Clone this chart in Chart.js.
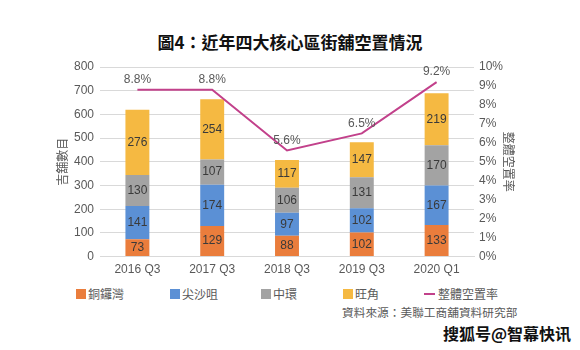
<!DOCTYPE html>
<html>
<head>
<meta charset="utf-8">
<script src="https://cdn.jsdelivr.net/npm/chart.js@4"></script>
<style>
  body { margin: 0; background: #fff; font-family: "Liberation Sans", "Noto Sans CJK TC", sans-serif; }
  #wrap { position: relative; width: 580px; height: 350px; }
  #title { position: absolute; top: 29px; left: 0; width: 580px; text-align: center;
           font: bold 17px "Noto Sans CJK TC", sans-serif; color: #111; }
  #chart-box { position: absolute; left: 0; top: 50px; width: 580px; height: 233px; }
  #legend { position: absolute; top: 285px; left: 0; width: 580px; height: 16px;
            font: 12px "Noto Sans CJK TC", sans-serif; color: #595959; }
  .lg { position: absolute; top: 0; display: flex; align-items: center; }
  .lg .box { width: 10px; height: 10px; margin-right: 2px; }
  .lg .ln { width: 11px; height: 2px; margin-right: 3px; }
  #source { position: absolute; top: 303px; left: 342px;
            font: 11.7px "Noto Sans CJK TC", sans-serif; color: #595959; }
  #mark { position: absolute; top: 321px; left: 443px;
          font: bold 16px "Noto Sans CJK SC", sans-serif; color: #111; }
</style>
</head>
<body>
<div id="wrap">
  <div id="title">圖4：近年四大核心區街舖空置情況</div>
  <div id="chart-box"><canvas id="shopChart"></canvas></div>
  <div id="legend"></div>
  <div id="source">資料來源：美聯工商舖資料研究部</div>
  <div id="mark">搜狐号@智幕快讯</div>
</div>
<script>
// ─── data ───
const periods    = ['2016 Q3', '2017 Q3', '2018 Q3', '2019 Q3', '2020 Q1'];
const causewayBay = [73, 129, 88, 102, 133];   // 銅鑼灣
const tsimShaTsui = [141, 174, 97, 102, 167];  // 尖沙咀
const central     = [130, 107, 106, 131, 170]; // 中環
const mongKok     = [276, 254, 117, 147, 219]; // 旺角
const vacancyRate = [8.8, 8.8, 5.6, 6.5, 9.2];  // 整體空置率 (%)
const leftTicks   = [0, 100, 200, 300, 400, 500, 600, 700, 800];
const rightTicks  = [0, 1, 2, 3, 4, 5, 6, 7, 8, 9, 10];

const C_ORANGE = '#EA7D3C';
const C_BLUE   = '#5B90D5';
const C_GREY   = '#A3A3A3';
const C_GOLD   = '#F5B942';
const C_LINE   = '#C2418B';
const TXT      = '#595959';
const NUM_FONT = '"Liberation Sans", sans-serif';

// legend (HTML so the order/spacing matches the original)
const legendItems = [
    { label: '銅鑼灣', color: C_ORANGE, x: 76 },
    { label: '尖沙咀', color: C_BLUE,   x: 170 },
    { label: '中環',   color: C_GREY,   x: 261 },
    { label: '旺角',   color: C_GOLD,   x: 343 },
    { label: '整體空置率', color: C_LINE, x: 424, line: true }
];
const lg = document.getElementById('legend');
legendItems.forEach(function(it) {
    const d = document.createElement('div');
    d.className = 'lg';
    d.style.left = it.x + 'px';
    d.innerHTML = '<span class="' + (it.line ? 'ln' : 'box') + '" style="background:' + it.color + '"></span>' + it.label;
    lg.appendChild(d);
});

// value labels on bars + line
const labelPlugin = {
    id: 'valueLabels',
    afterDatasetsDraw(chart) {
        const ctx = chart.ctx;
        ctx.save();
        ctx.textAlign = 'center';
        ctx.textBaseline = 'middle';
        ctx.font = '12px ' + NUM_FONT;
        chart.data.datasets.forEach(function(ds, i) {
            const meta = chart.getDatasetMeta(i);
            meta.data.forEach(function(el, j) {
                if (ds.type === 'line') {
                    ctx.fillStyle = TXT;
                    ctx.fillText(ds.data[j].toFixed(1) + '%', el.x, el.y - 10);
                } else {
                    ctx.fillStyle = '#3a3a3a';
                    ctx.fillText(ds.data[j], el.x, (el.y + el.base) / 2);
                }
            });
        });
        ctx.restore();
    }
};

const barDs = function(label, data, color) {
    return {
        type: 'bar', label: label, data: data, backgroundColor: color,
        yAxisID: 'y', stack: 's', order: 1,
        barPercentage: 0.32, categoryPercentage: 1
    };
};

// fixed axis widths so the plot lines up with the original
new Chart(document.getElementById('shopChart'), {
    data: {
        labels: periods,
        datasets: [
            {
                type: 'line', label: '整體空置率', data: vacancyRate, yAxisID: 'y1',
                borderColor: C_LINE, borderWidth: 2, pointRadius: 0, tension: 0, order: 0
            },
            barDs('銅鑼灣', causewayBay, C_ORANGE),
            barDs('尖沙咀', tsimShaTsui, C_BLUE),
            barDs('中環', central, C_GREY),
            barDs('旺角', mongKok, C_GOLD)
        ]
    },
    options: {
        responsive: true,
        maintainAspectRatio: false,
        animation: false,
        layout: { padding: { left: 55, right: 64, top: 17, bottom: 0 } },
        plugins: { legend: { display: false }, tooltip: { enabled: false } },
        scales: {
            x: {
                stacked: true,
                grid: { display: false, drawTicks: false },
                border: { color: '#d9d9d9' },
                ticks: { color: TXT, font: { size: 12, family: NUM_FONT }, padding: 6 }
            },
            y: {
                stacked: true,
                position: 'left',
                min: 0, max: 800,
                afterBuildTicks: function(ax) { ax.ticks = leftTicks.map(function(v) { return { value: v }; }); },
                afterFit: function(ax) { ax.width = 45; },
                grid: { color: '#d9d9d9', drawTicks: false },
                border: { display: false },
                ticks: { color: TXT, font: { size: 12, family: NUM_FONT }, padding: 6 },
                title: { display: true, text: '吉舖數目', color: TXT, font: { size: 12, family: '"Noto Sans CJK TC", sans-serif' }, padding: 0 }
            },
            y1: {
                position: 'right',
                min: 0, max: 10,
                afterBuildTicks: function(ax) { ax.ticks = rightTicks.map(function(v) { return { value: v }; }); },
                afterFit: function(ax) { ax.width = 42; },
                grid: { drawOnChartArea: false, drawTicks: false },
                border: { display: false },
                ticks: { color: TXT, font: { size: 12, family: NUM_FONT }, padding: 5,
                         callback: function(v) { return v + '%'; } },
                title: { display: true, text: '整體空置率', color: TXT, font: { size: 12, family: '"Noto Sans CJK TC", sans-serif' }, padding: 0 }
            }
        }
    },
    plugins: [labelPlugin]
});
</script>
</body>
</html>
